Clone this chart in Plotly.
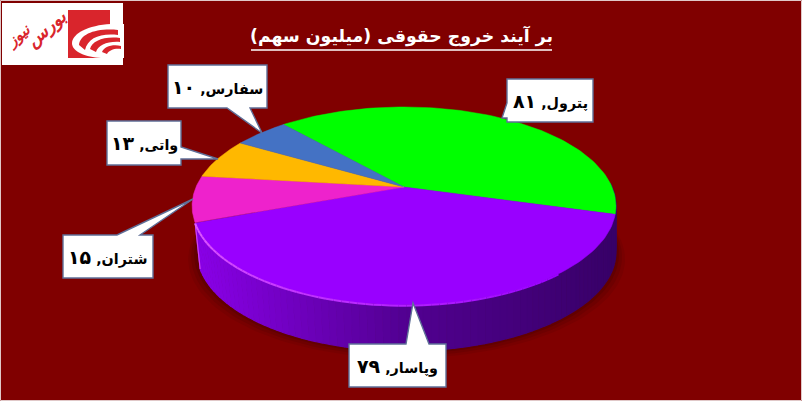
import numpy as np
import plotly.graph_objects as go

# ---- data ----
names = ["پترول", "وپاسار", "شتران", "واتی", "سفارس"]
values = [81, 79, 15, 13, 10]
colors = ["#00ff00", "#9900ff", "#ee22cc", "#ffb800", "#4472c4"]
title_text = "بر آیند خروج حقوقی (میلیون سهم)"
logo_words = ["بورس", "نیوز"]

# ---- style / layout constants ----
W, H = 802, 401
BG = "#800000"
CX, AY, A, B, K = 404, 187, 208, 95.4, 0.192
START = -41.5
DEPTH = 46
FA = str.maketrans("0123456789", "۰۱۲۳۴۵۶۷۸۹")

boxes = [
    dict(b=(507, 79, 593, 122), p=[(507, 103), (502, 118), (507, 118)], side="left"),
    dict(b=(349, 344, 446, 387), p=[(406, 344), (413, 303), (429, 344)], side="top"),
    dict(b=(63, 235, 153, 278), p=[(117, 235), (193, 199), (140, 235)], side="top"),
    dict(b=(107, 121, 181, 165), p=[(181, 147), (218, 159), (181, 159)], side="right"),
    dict(b=(168, 65, 267, 108), p=[(227, 108), (262, 133), (250, 108)], side="bottom"),
]


def project(theta_deg, r=1.0, dy=0.0):
    t = np.radians(theta_deg)
    u, v = r * np.sin(t), r * np.cos(t)
    w = 1 + K * v
    return CX + A * u / w, AY - B * v / w + dy


def lower(theta_deg):
    x, y = project(theta_deg, 1.0, DEPTH)
    # the base rim tucks in a little on the left
    x = x + np.where(x < CX, 5.0 * (CX - x) / 210, 0.0)
    return x, y


def mix(c1, c2, f):
    return "rgb(%d,%d,%d)" % tuple(c1[i] + (c2[i] - c1[i]) * f for i in range(3))


def poly(x, y, color, line=0.6, opacity=1.0):
    return go.Scatter(x=list(x), y=list(y), mode="lines", fill="toself", fillcolor=color,
                      line=dict(color=color, width=line), opacity=opacity,
                      hoverinfo="skip", showlegend=False)


fig = go.Figure()
total = sum(values)
spans = [v / total * 360 for v in values]
edges = START + np.concatenate([[0], np.cumsum(spans)])

# soft shadow around the lower edge
th = np.linspace(60, 300, 120)
for grow, op in [(9, 0.10), (6, 0.14), (3, 0.2)]:
    x0, y0 = lower(th)
    xs = CX + (x0 - CX) * (1 + grow / 210)
    ys = y0 + grow * 0.8
    fig.add_trace(poly(xs, ys, "#300000", 0, op))

# side wall: many strips, shaded by angle
left_c, mid_c, right_c = (138, 0, 232), (82, 0, 146), (56, 0, 104)
steps = np.linspace(edges[1] - 18, edges[2], 91)
for a0, a1 in zip(steps[:-1], steps[1:]):
    arc = np.linspace(a0, a1, 3)
    xt, yt = project(arc)
    xb, yb = lower(arc[::-1])
    x_mid = xt.mean()
    f = (x_mid - 195) / (615 - 195)
    col = mix(left_c, mid_c, f / 0.5) if f < 0.5 else mix(mid_c, right_c, (f - 0.5) / 0.5)
    fig.add_trace(poly(np.r_[xt, xb], np.r_[yt, yb], col, 1.2))

# thin pink edge on the wall's left silhouette
xa, ya = project(edges[2])
xb, yb = lower(edges[2])
fig.add_trace(go.Scatter(x=[xa, float(xb)], y=[ya, yb], mode="lines",
                         line=dict(color="#d040f0", width=1.2),
                         hoverinfo="skip", showlegend=False))

# top face slices
for i, c in enumerate(colors):
    arc = np.linspace(edges[i], edges[i + 1], 90)
    xt, yt = project(arc)
    fig.add_trace(poly(np.r_[CX, xt, CX], np.r_[AY, yt, AY], c, 0.5))

# highlight along the front rim, fading to the right
hl = np.linspace(edges[2], edges[1] + 35, 60)
for a0, a1 in zip(hl[:-1], hl[1:]):
    f = (a0 - hl[0]) / (hl[-1] - hl[0])
    col = mix((226, 90, 255), (153, 0, 255), abs(f))
    xh, yh = project(np.array([a0, a1]), 1.0, 0.6)
    fig.add_trace(go.Scatter(x=xh, y=yh, mode="lines", line=dict(color=col, width=2),
                             hoverinfo="skip", showlegend=False))

shapes = []
annotations = []

# callouts, text from names and values
for n, v, bx in zip(names, values, boxes):
    x0, y0, x1, y1 = bx["b"]
    p = bx["p"]
    if bx["side"] == "top":
        route = [(x0, y0), p[0], p[1], p[2], (x1, y0), (x1, y1), (x0, y1)]
    elif bx["side"] == "right":
        route = [(x0, y0), (x1, y0), p[0], p[1], p[2], (x1, y1), (x0, y1)]
    elif bx["side"] == "bottom":
        route = [(x0, y0), (x1, y0), (x1, y1), p[2], p[1], p[0], (x0, y1)]
    else:
        route = [(x0, y0), (x1, y0), (x1, y1), (x0, y1), p[2], p[1], p[0]]
    path = "M" + " L".join(f"{a},{b}" for a, b in route) + " Z"
    shapes.append(dict(type="path", path=path, fillcolor="white",
                       line=dict(color="#5f6f98", width=1.4), layer="above"))
    annotations.append(dict(x=(x0 + x1) / 2, y=(y0 + y1) / 2, xref="x", yref="y",
                            text=f"<b>{n}, <span style='font-size:19px'>{str(v).translate(FA)}</span></b>",
                            showarrow=False,
                            font=dict(family="DejaVu Sans", size=14.3, color="black")))

# title
annotations.append(dict(x=401.5, y=36, xref="x", yref="y", text=f"<b>{title_text}</b>",
                        showarrow=False, font=dict(family="DejaVu Sans", size=17.3, color="white")))
shapes.append(dict(type="line", x0=251, x1=552, y0=50, y1=50, line=dict(color="white", width=1.5), layer="above"))

# logo
LOGO = "#d9252c"
shapes += [
    dict(type="rect", x0=2, y0=3, x1=123, y1=65, fillcolor="white", line=dict(width=0), layer="above"),
    dict(type="rect", x0=68, y0=10, x1=110, y1=58, fillcolor=LOGO, line=dict(width=0), layer="above"),
    dict(type="path", path="M111,24 C88,25 72,34 72,43 C72,52 86,57 101,58 L124,58 L124,24 Z",
         fillcolor="white", line=dict(width=0), layer="above"),
    dict(type="path", path="M79,45 C80,34 96,28 118,30 L118,35 C100,33 88,38 85,50 Z",
         fillcolor=LOGO, line=dict(width=0), layer="above"),
    dict(type="path", path="M90,49 C92,41 104,36 120,38 L120,42 C108,41 98,45 96,52 Z",
         fillcolor=LOGO, line=dict(width=0), layer="above"),
    dict(type="path", path="M102,52 C104,47 112,44 121,46 L121,49 C115,48 109,50 107,54 Z",
         fillcolor=LOGO, line=dict(width=0), layer="above"),
]
annotations.append(dict(x=46, y=29, xref="x", yref="y", text=f"<b><i>{logo_words[0]}</i></b>",
                        showarrow=False, textangle=-40,
                        font=dict(family="DejaVu Sans", size=18, color=LOGO)))
annotations.append(dict(x=18, y=36, xref="x", yref="y", text=f"<b><i>{logo_words[1]}</i></b>",
                        showarrow=False, textangle=-40,
                        font=dict(family="DejaVu Sans", size=15, color=LOGO)))

# picture frame
shapes.append(dict(type="rect", x0=0.5, y0=0.5, x1=W - 0.5, y1=H - 0.5, fillcolor="rgba(0,0,0,0)",
                   line=dict(color="#e0c8c8", width=1), layer="above"))

fig.update_layout(
    width=W, height=H, margin=dict(l=0, r=0, t=0, b=0),
    paper_bgcolor=BG, plot_bgcolor=BG, showlegend=False,
    xaxis=dict(range=[0, W], visible=False, fixedrange=True),
    yaxis=dict(range=[H, 0], visible=False, fixedrange=True),
    shapes=shapes, annotations=annotations,
)
fig.write_html("out.html", config={"displayModeBar": False},
               post_script="document.body.style.margin='0';document.body.style.overflow='hidden';"
                           "document.documentElement.style.background='#800000';")
